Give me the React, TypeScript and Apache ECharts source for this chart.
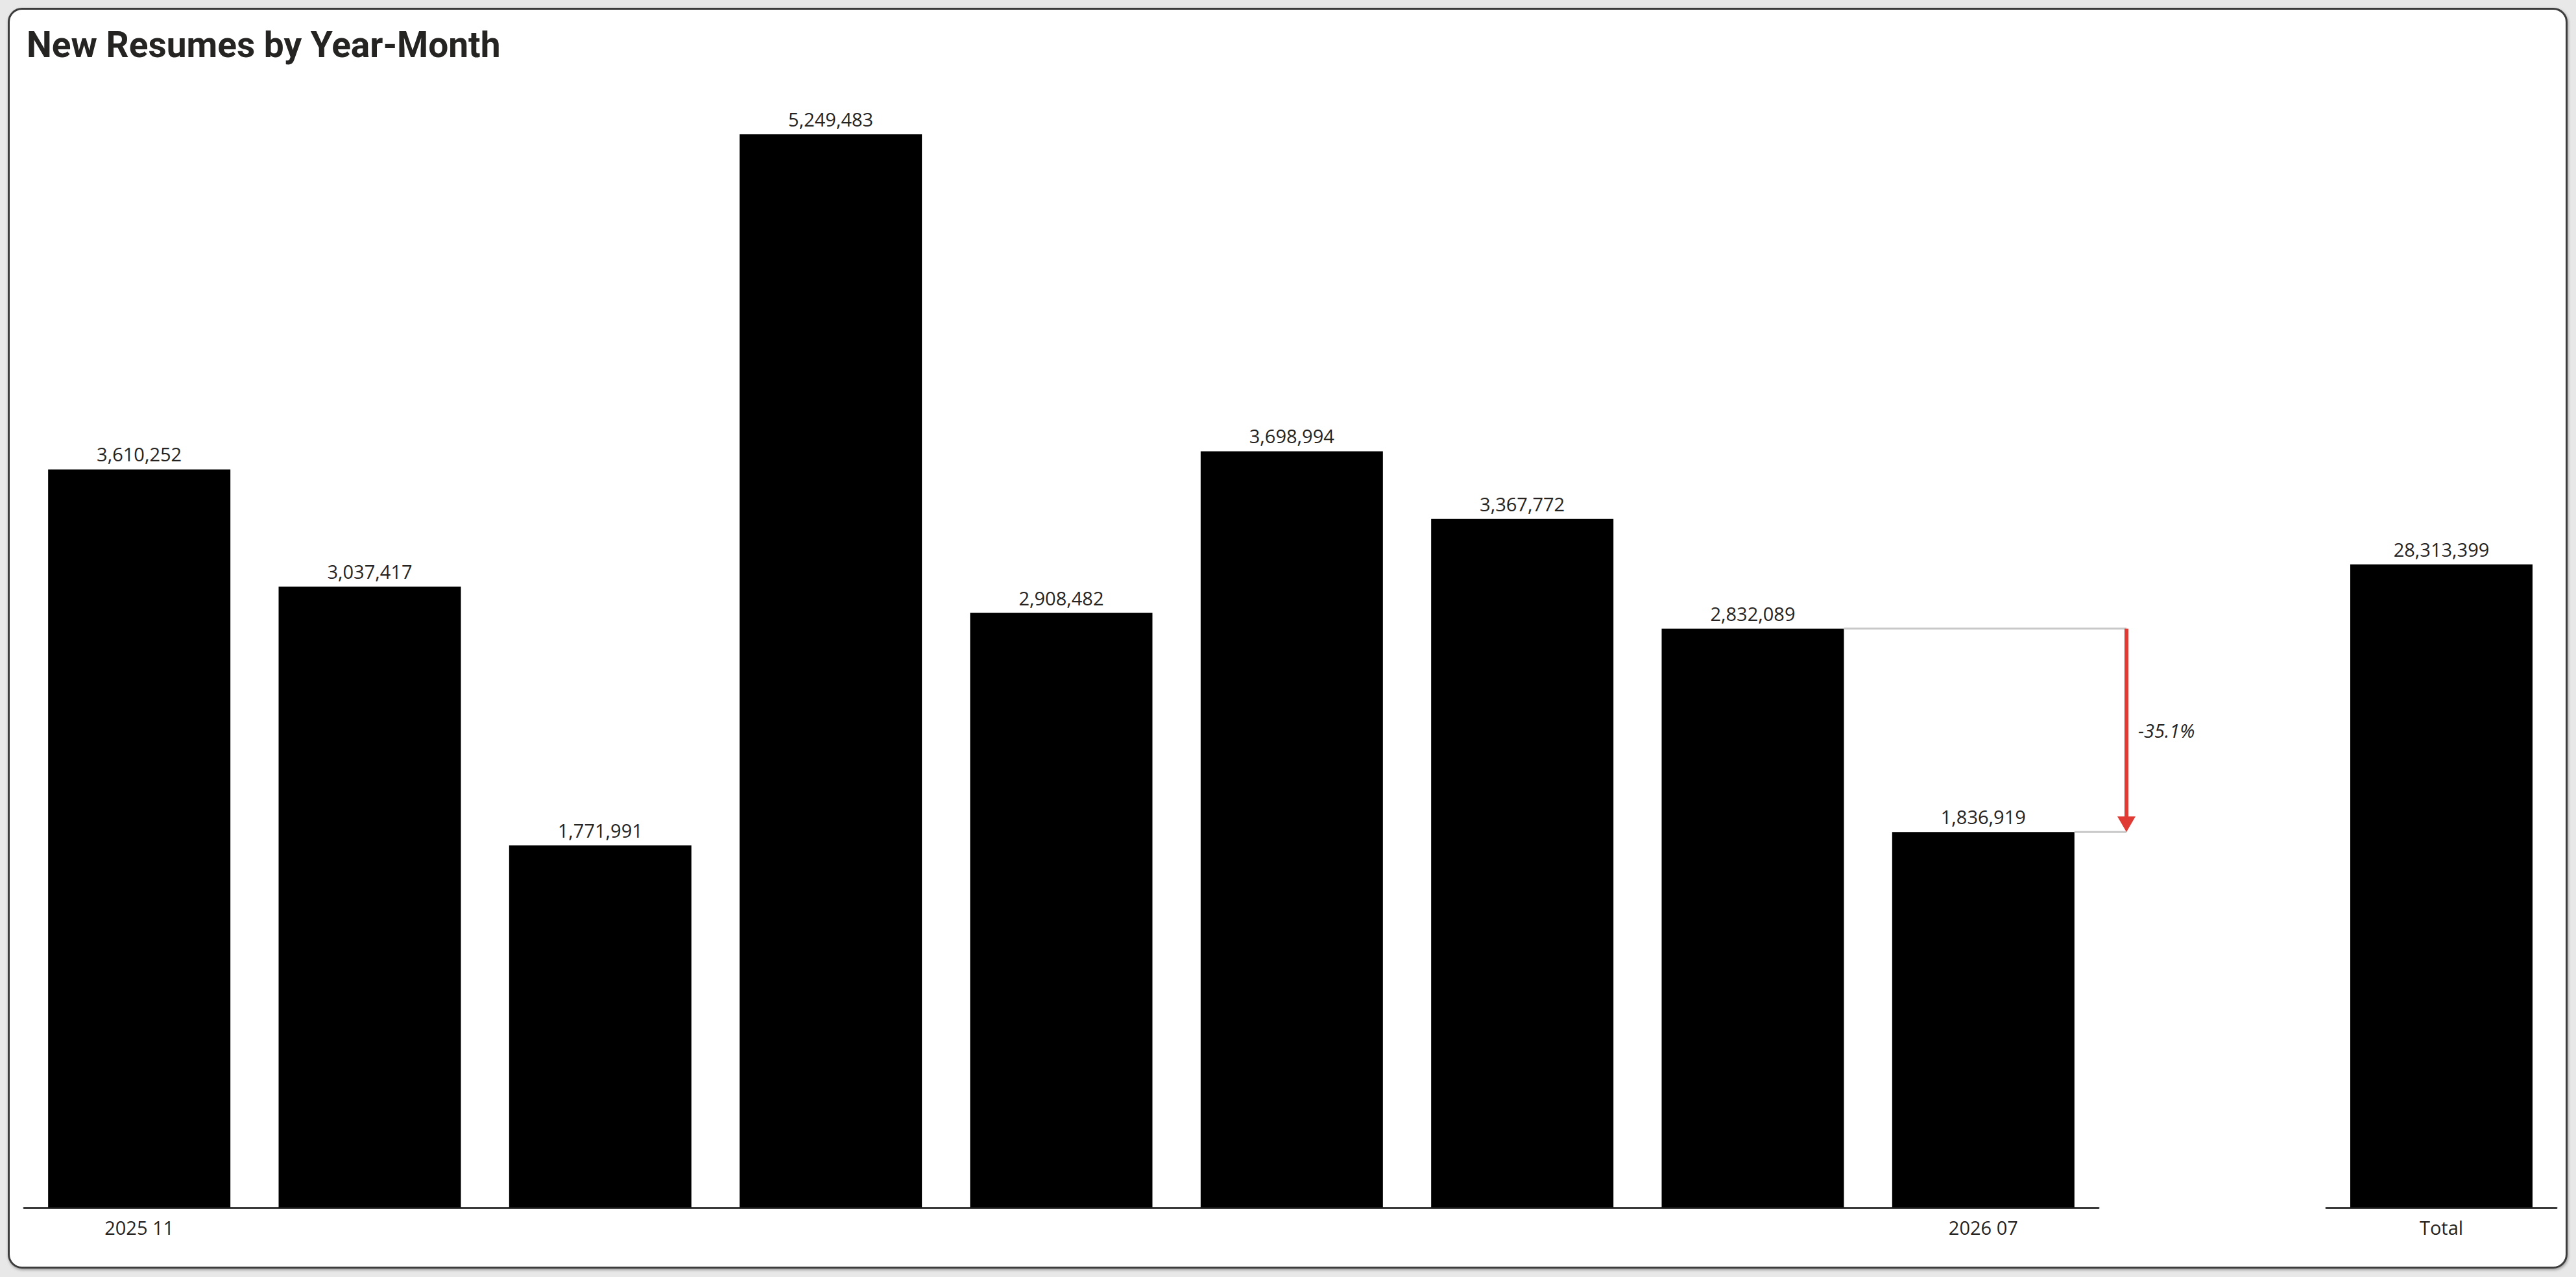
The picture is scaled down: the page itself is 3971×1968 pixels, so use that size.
import React, { useEffect, useRef } from 'react';
import * as echarts from 'echarts';

const categories = ['2025 11', '2025 12', '2026 01', '2026 02', '2026 03', '2026 04', '2026 05', '2026 06', '2026 07'];
const monthlyValues = [3610252, 3037417, 1771991, 5249483, 2908482, 3698994, 3367772, 2832089, 1836919];
const totalCategories = ['Total'];
const totalValues = [28313399];
const shownLabelIndexes = [0, 8];
const monthlyAxisMax = 5500000;
const totalAxisMax = monthlyAxisMax * categories.length;

const W = 3971;
const H = 1968;
const FONT = "'Open Sans', 'Noto Sans', sans-serif";
const TEXT = '#252423';
const BAR_W = 281;

export default function App() {
  const ref = useRef<HTMLDivElement>(null);
  useEffect(() => {
    document.body.style.margin = '0';
    const chart = echarts.init(ref.current!, null, { renderer: 'svg', width: W, height: H });
    const fmt = (v: number) => v.toLocaleString('en-US');
    const label = {
      show: true,
      position: 'top',
      distance: 9,
      color: TEXT,
      fontSize: 29,
      fontFamily: FONT,
      formatter: (p: any) => fmt(p.value),
    };
    const xCommon = {
      type: 'category',
      axisTick: { show: false },
      axisLine: { show: true, lineStyle: { color: '#3a3a3a', width: 3 } },
      axisLabel: { color: TEXT, fontSize: 29, fontFamily: FONT, margin: 16 },
    };
    chart.setOption({
      animation: false,
      backgroundColor: 'transparent',
      title: {
        text: 'New Resumes by Year-Month',
        left: 36,
        top: 36,
        textStyle: { fontSize: 55, fontWeight: 'bold', fontFamily: "'Roboto', 'Noto Sans', sans-serif", color: TEXT },
      },
      grid: [
        { left: 37, top: 128, width: 3198, bottom: 107 },
        { left: 3586, top: 128, width: 355, bottom: 107 },
      ],
      xAxis: [
        {
          ...xCommon,
          gridIndex: 0,
          data: categories,
          axisLabel: { ...xCommon.axisLabel, interval: (i: number) => shownLabelIndexes.includes(i) },
        },
        { ...xCommon, gridIndex: 1, data: totalCategories },
      ],
      yAxis: [
        { type: 'value', gridIndex: 0, min: 0, max: monthlyAxisMax, show: false },
        { type: 'value', gridIndex: 1, min: 0, max: totalAxisMax, show: false },
      ],
      series: [
        {
          type: 'bar',
          xAxisIndex: 0,
          yAxisIndex: 0,
          data: monthlyValues,
          barWidth: BAR_W,
          itemStyle: { color: '#000000' },
          label,
        },
        {
          type: 'bar',
          xAxisIndex: 1,
          yAxisIndex: 1,
          data: totalValues,
          barWidth: BAR_W,
          itemStyle: { color: '#000000' },
          label,
        },
      ],
    });

    const n = monthlyValues.length;
    const a = monthlyValues[n - 2];
    const b = monthlyValues[n - 1];
    const pA = chart.convertToPixel({ gridIndex: 0 }, [n - 2, a]) as number[];
    const pB = chart.convertToPixel({ gridIndex: 0 }, [n - 1, b]) as number[];
    const band = pB[0] - pA[0];
    const arrowX = pB[0] + band / 2 + 43;
    const pct = ((b - a) / a) * 100;
    const headH = 24;
    const headW = 14;
    chart.setOption({
      graphic: [
        {
          type: 'line',
          shape: { x1: pA[0] + BAR_W / 2, y1: pA[1], x2: arrowX, y2: pA[1] },
          style: { stroke: '#c8c8c8', lineWidth: 3 },
          z: 5,
        },
        {
          type: 'line',
          shape: { x1: pB[0] + BAR_W / 2, y1: pB[1], x2: arrowX, y2: pB[1] },
          style: { stroke: '#c8c8c8', lineWidth: 3 },
          z: 5,
        },
        {
          type: 'line',
          shape: { x1: arrowX, y1: pA[1], x2: arrowX, y2: pB[1] - headH + 2 },
          style: { stroke: '#e03a34', lineWidth: 6 },
          z: 6,
        },
        {
          type: 'polygon',
          shape: { points: [[arrowX - headW, pB[1] - headH], [arrowX + headW, pB[1] - headH], [arrowX, pB[1]]] },
          style: { fill: '#e03a34' },
          z: 6,
        },
        {
          type: 'text',
          x: arrowX + 18,
          y: (pA[1] + pB[1]) / 2,
          style: {
            text: pct.toFixed(1) + '%',
            fontSize: 29,
            fontStyle: 'italic',
            fontFamily: FONT,
            fill: TEXT,
            verticalAlign: 'middle',
            align: 'left',
          },
          z: 6,
        },
      ],
    });
    return () => chart.dispose();
  }, []);

  return (
    <div style={{ position: 'absolute', left: 0, top: 0, width: W, height: H, background: '#e8e8e8' }}>
      <div
        style={{
          position: 'absolute',
          left: 12,
          top: 12,
          width: W - 25,
          height: H - 25,
          background: '#ffffff',
          border: '3px solid #3c3c3c',
          borderRadius: 22,
          boxShadow: '1px 2px 4px rgba(0,0,0,0.35)',
          boxSizing: 'border-box',
        }}
      />
      <div ref={ref} style={{ position: 'absolute', left: 0, top: 0, width: W, height: H }} />
    </div>
  );
}
